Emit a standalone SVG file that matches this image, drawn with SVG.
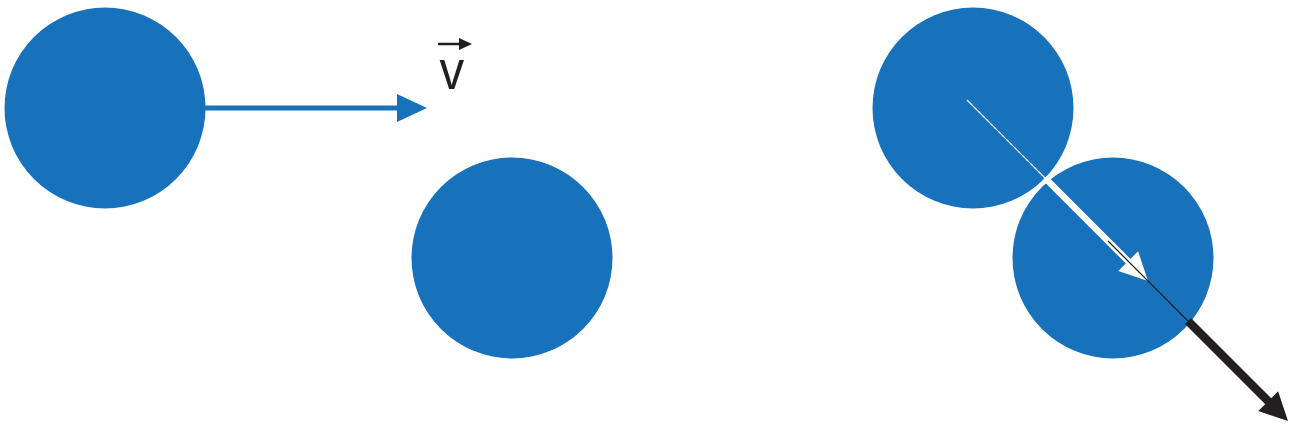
<svg xmlns="http://www.w3.org/2000/svg" width="1290" height="427" viewBox="0 0 1290 427">
<style>
.ball{fill:#1772BB}
.blue{stroke:#1772BB;fill:none}
.wht{stroke:#FFFFFF;fill:none}
.blk{stroke:#231F20;fill:none}
.label{font-family:"Liberation Sans",Arial,sans-serif;font-size:56px;fill:#231F20}
</style>
<rect width="1290" height="427" fill="#FFFFFF"/>
<g id="ball-a"><circle class="ball" cx="105" cy="108" r="100.5"/></g>
<g id="ball-b"><circle class="ball" cx="512" cy="258" r="100.5"/></g>
<g id="ball-c"><circle class="ball" cx="973" cy="108" r="100.5"/></g>
<g id="ball-d"><circle class="ball" cx="1113" cy="258" r="100.5"/></g>
<g id="label-v">
<line class="blk" x1="438" y1="44" x2="461" y2="44" stroke-width="2.5"/>
<polygon points="459,38 472,44 459,50" fill="#231F20"/>
<text class="label" transform="translate(439.5,89) scale(0.88,1)" x="0" y="0">v</text>
</g>
<g id="connectors">
<line class="blue" x1="204" y1="108" x2="400" y2="108" stroke-width="5"/>
<polygon points="397,94 427,108 397,122" fill="#1772BB"/>
<line class="wht" x1="967" y1="100" x2="1046" y2="179" stroke-width="1.2"/>
<line class="wht" x1="1045" y1="178" x2="1130" y2="263" stroke-width="6.5"/>
<polygon points="1148,281 1138.1,251.3 1118.3,271.1" fill="#FFFFFF"/>
<line class="blk" x1="1108" y1="241" x2="1189" y2="322" stroke-width="1.2"/>
<line class="blk" x1="1188" y1="321" x2="1270" y2="403" stroke-width="8.5"/>
<polygon points="1288,421 1278.1,391.3 1258.3,411.1" fill="#231F20"/>
</g>
</svg>
